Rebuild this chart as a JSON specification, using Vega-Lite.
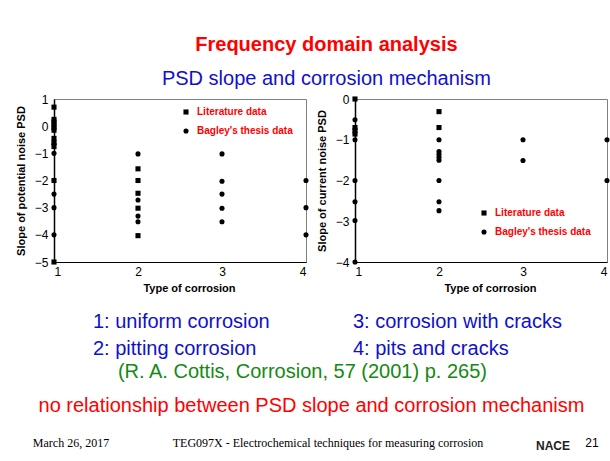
{
  "$schema": "https://vega.github.io/schema/vega-lite/v6.json",
  "padding": {"left": 14, "top": 34, "right": 0, "bottom": 0},
  "background": "white",
  "title": {
    "text": "Frequency domain analysis",
    "subtitle": "PSD slope and corrosion mechanism",
    "font": "Liberation Sans",
    "fontSize": 20,
    "fontWeight": "bold",
    "color": "#ff0000",
    "subtitleFont": "Liberation Sans",
    "subtitleFontSize": 20,
    "subtitleColor": "#1010cc",
    "subtitlePadding": 14,
    "offset": 4,
    "anchor": "middle",
    "dx": 14
  },
  "datasets": {
    "potential": [
      {"type": 1, "slope": 0.7, "source": "Literature data"},
      {"type": 1, "slope": 0.25, "source": "Literature data"},
      {"type": 1, "slope": 0.15, "source": "Literature data"},
      {"type": 1, "slope": 0.05, "source": "Literature data"},
      {"type": 1, "slope": -0.05, "source": "Literature data"},
      {"type": 1, "slope": -0.15, "source": "Literature data"},
      {"type": 1, "slope": -0.45, "source": "Literature data"},
      {"type": 1, "slope": -0.6, "source": "Literature data"},
      {"type": 1, "slope": -0.75, "source": "Literature data"},
      {"type": 1, "slope": -2, "source": "Literature data"},
      {"type": 1, "slope": -5, "source": "Literature data"},
      {"type": 2, "slope": -1.57, "source": "Literature data"},
      {"type": 2, "slope": -2, "source": "Literature data"},
      {"type": 2, "slope": -2.47, "source": "Literature data"},
      {"type": 2, "slope": -3.02, "source": "Literature data"},
      {"type": 2, "slope": -4.03, "source": "Literature data"},
      {"type": 1, "slope": -0.65, "source": "Bagley's thesis data"},
      {"type": 1, "slope": -1, "source": "Bagley's thesis data"},
      {"type": 1, "slope": -2.5, "source": "Bagley's thesis data"},
      {"type": 1, "slope": -3, "source": "Bagley's thesis data"},
      {"type": 1, "slope": -4, "source": "Bagley's thesis data"},
      {"type": 2, "slope": -1.02, "source": "Bagley's thesis data"},
      {"type": 2, "slope": -2.72, "source": "Bagley's thesis data"},
      {"type": 2, "slope": -3.31, "source": "Bagley's thesis data"},
      {"type": 2, "slope": -3.52, "source": "Bagley's thesis data"},
      {"type": 3, "slope": -1.02, "source": "Bagley's thesis data"},
      {"type": 3, "slope": -2.03, "source": "Bagley's thesis data"},
      {"type": 3, "slope": -2.5, "source": "Bagley's thesis data"},
      {"type": 3, "slope": -3.02, "source": "Bagley's thesis data"},
      {"type": 3, "slope": -3.52, "source": "Bagley's thesis data"},
      {"type": 4, "slope": -2, "source": "Bagley's thesis data"},
      {"type": 4, "slope": -3, "source": "Bagley's thesis data"},
      {"type": 4, "slope": -4, "source": "Bagley's thesis data"}
    ],
    "current": [
      {"type": 1, "slope": 0, "source": "Literature data"},
      {"type": 1, "slope": -0.7, "source": "Literature data"},
      {"type": 1, "slope": -0.78, "source": "Literature data"},
      {"type": 1, "slope": -0.86, "source": "Literature data"},
      {"type": 2, "slope": -0.31, "source": "Literature data"},
      {"type": 2, "slope": -0.7, "source": "Literature data"},
      {"type": 1, "slope": -0.51, "source": "Bagley's thesis data"},
      {"type": 1, "slope": -1, "source": "Bagley's thesis data"},
      {"type": 1, "slope": -2, "source": "Bagley's thesis data"},
      {"type": 1, "slope": -2.52, "source": "Bagley's thesis data"},
      {"type": 1, "slope": -2.98, "source": "Bagley's thesis data"},
      {"type": 1, "slope": -4, "source": "Bagley's thesis data"},
      {"type": 2, "slope": -1, "source": "Bagley's thesis data"},
      {"type": 2, "slope": -1.29, "source": "Bagley's thesis data"},
      {"type": 2, "slope": -1.36, "source": "Bagley's thesis data"},
      {"type": 2, "slope": -1.43, "source": "Bagley's thesis data"},
      {"type": 2, "slope": -1.5, "source": "Bagley's thesis data"},
      {"type": 2, "slope": -2, "source": "Bagley's thesis data"},
      {"type": 2, "slope": -2.52, "source": "Bagley's thesis data"},
      {"type": 2, "slope": -2.74, "source": "Bagley's thesis data"},
      {"type": 3, "slope": -1, "source": "Bagley's thesis data"},
      {"type": 3, "slope": -1.51, "source": "Bagley's thesis data"},
      {"type": 4, "slope": -1, "source": "Bagley's thesis data"},
      {"type": 4, "slope": -2, "source": "Bagley's thesis data"}
    ],
    "footer": [
      {"item": "date", "label": "March 26, 2017"},
      {"item": "course", "label": "TEG097X - Electrochemical techniques for measuring corrosion"},
      {"item": "logo", "label": "NACE"},
      {"item": "page", "label": "21"}
    ]
  },
  "vconcat": [
    {
      "title": {
        "text": "no relationship between PSD slope and corrosion mechanism",
        "orient": "bottom",
        "anchor": "middle",
        "font": "Liberation Sans",
        "fontSize": 20,
        "fontWeight": "normal",
        "color": "#ff0000",
        "offset": 14,
        "dx": -1
      },
      "vconcat": [
        {
          "title": {
            "text": "(R. A. Cottis, Corrosion, 57 (2001) p. 265)",
            "orient": "bottom",
            "anchor": "middle",
            "font": "Liberation Sans",
            "fontSize": 20,
            "fontWeight": "normal",
            "color": "#138a13",
            "offset": 2,
            "dx": -10
          },
          "resolve": {"scale": {"shape": "independent"}, "legend": {"shape": "independent"}},
          "spacing": 5,
          "hconcat": [
            {
              "width": 252,
              "height": 163,
              "data": {"name": "potential"},
              "title": {
                "text": ["1: uniform corrosion", "2: pitting corrosion"],
                "orient": "bottom",
                "anchor": "start",
                "frame": "group",
                "dx": 39,
                "offset": 19,
                "lineHeight": 27,
                "font": "Liberation Sans",
                "fontSize": 20,
                "fontWeight": "normal",
                "color": "#1010cc"
              },
              "mark": {"type": "point", "filled": true, "color": "black", "opacity": 1, "size": 26},
              "encoding": {
                "x": {"field": "type", "type": "quantitative", "scale": {"domain": [1, 4], "nice": false, "zero": false},
                      "axis": {"values": [1, 2, 3, 4], "title": "Type of corrosion", "titleX": 135, "domainWidth": 1}},
                "y": {"field": "slope", "type": "quantitative", "scale": {"domain": [-5, 1], "nice": false, "zero": false},
                      "axis": {"values": [1, 0, -1, -2, -3, -4, -5], "title": "Slope of potential noise PSD", "domainWidth": 1.5}},
                "shape": {"field": "source", "type": "nominal",
                          "scale": {"domain": ["Literature data", "Bagley's thesis data"], "range": ["square", "circle"]},
                          "legend": {"orient": "none", "legendX": 127, "legendY": 8,
                                     "encode": {"symbols": {"update": {"fill": {"value": "#ff0000"}, "stroke": {"value": "#ff0000"}}}}}}
              }
            },
            {
              "width": 252,
              "height": 163,
              "data": {"name": "current"},
              "title": {
                "text": ["3: corrosion with cracks", "4: pits and cracks"],
                "orient": "bottom",
                "anchor": "start",
                "frame": "group",
                "dx": -2,
                "offset": 19,
                "lineHeight": 27,
                "font": "Liberation Sans",
                "fontSize": 20,
                "fontWeight": "normal",
                "color": "#1010cc"
              },
              "mark": {"type": "point", "filled": true, "color": "black", "opacity": 1, "size": 26},
              "encoding": {
                "x": {"field": "type", "type": "quantitative", "scale": {"domain": [1, 4], "nice": false, "zero": false},
                      "axis": {"values": [1, 2, 3, 4], "title": "Type of corrosion", "titleX": 135, "domainWidth": 1}},
                "y": {"field": "slope", "type": "quantitative", "scale": {"domain": [-4, 0], "nice": false, "zero": false},
                      "axis": {"values": [0, -1, -2, -3, -4], "title": "Slope of current noise PSD", "domainWidth": 1.5}},
                "shape": {"field": "source", "type": "nominal",
                          "scale": {"domain": ["Literature data", "Bagley's thesis data"], "range": ["square", "circle"]},
                          "legend": {"orient": "none", "legendX": 124, "legendY": 109,
                                     "encode": {"symbols": {"update": {"fill": {"value": "#ff0000"}, "stroke": {"value": "#ff0000"}}}}}}
              }
            }
          ]
        }
      ]
    },
    {
      "spacing": 0,
      "bounds": "flush",
      "hconcat": [
        {
          "width": 34, "height": 20, "view": {"stroke": null},
          "data": {"name": "footer"},
          "transform": [{"filter": "datum.item == 'date'"}],
          "mark": {"type": "text", "font": "Liberation Serif", "fontSize": 12, "color": "black"},
          "encoding": {"text": {"field": "label"}}
        },
        {
          "width": 480, "height": 20, "view": {"stroke": null},
          "data": {"name": "footer"},
          "transform": [{"filter": "datum.item == 'course'"}],
          "mark": {"type": "text", "font": "Liberation Serif", "fontSize": 12, "color": "black"},
          "encoding": {"text": {"field": "label"}}
        },
        {
          "width": 20, "height": 20, "view": {"stroke": null},
          "data": {"name": "footer"},
          "transform": [{"filter": "datum.item == 'logo'"}],
          "mark": {"type": "text", "font": "Liberation Sans", "fontSize": 12, "fontWeight": "bold", "color": "#222222", "dx": -25, "dy": 3},
          "encoding": {"text": {"field": "label"}}
        },
        {
          "width": 8, "height": 20, "view": {"stroke": null},
          "data": {"name": "footer"},
          "transform": [{"filter": "datum.item == 'page'"}],
          "mark": {"type": "text", "font": "Liberation Sans", "fontSize": 12, "color": "black"},
          "encoding": {"text": {"field": "label"}}
        }
      ]
    }
  ],
  "spacing": 17,
  "config": {
    "view": {"stroke": "#808080", "strokeWidth": 1},
    "axis": {
      "labelFont": "Liberation Sans",
      "labelFontSize": 12,
      "labelColor": "black",
      "labelPadding": 6,
      "titleFont": "Liberation Sans",
      "titleFontSize": 11,
      "titleFontWeight": "bold",
      "titleColor": "black",
      "titlePadding": 8,
      "ticks": false,
      "grid": false,
      "domainColor": "black"
    },
    "axisX": {"labelPadding": 4, "titlePadding": 5},
    "legend": {
      "title": null,
      "labelFont": "Liberation Sans",
      "labelFontSize": 10,
      "labelFontWeight": "bold",
      "labelColor": "#ff0000",
      "labelLimit": 300,
      "labelOffset": 6,
      "symbolSize": 26,
      "rowPadding": 7
    }
  }
}
